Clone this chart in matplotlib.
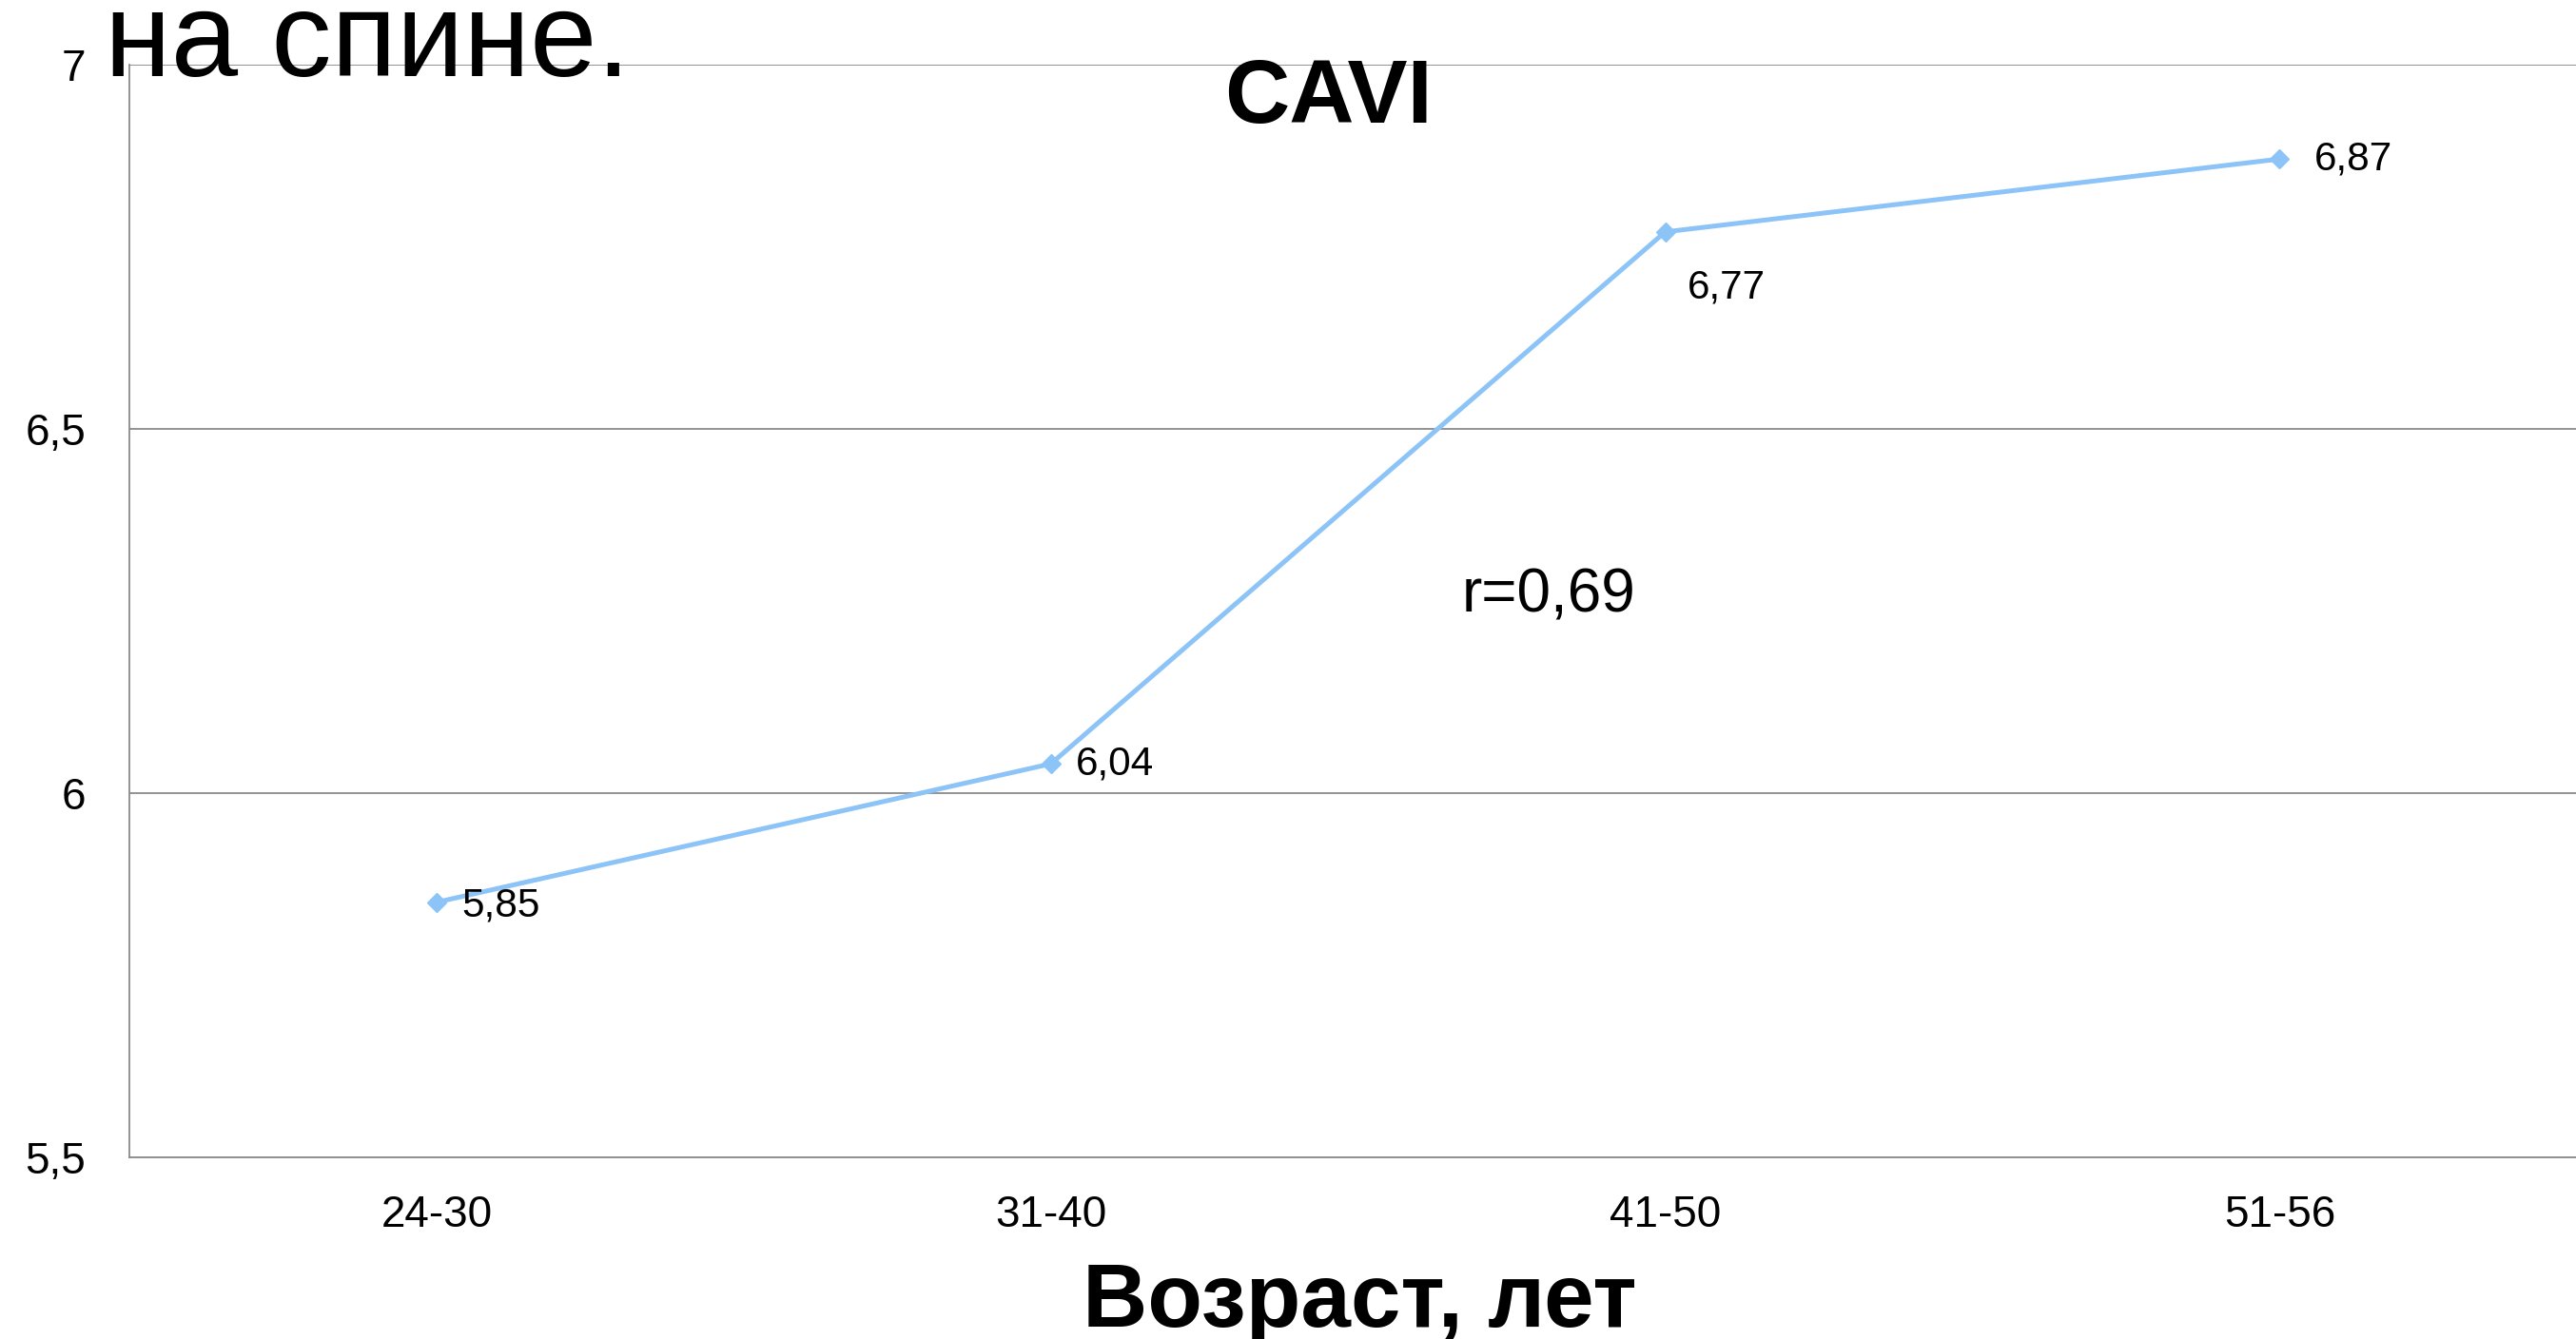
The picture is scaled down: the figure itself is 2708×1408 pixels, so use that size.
import matplotlib.pyplot as plt

plt.rcParams['font.family'] = ['Liberation Sans', 'DejaVu Sans']

age_groups = ['24-30', '31-40', '41-50', '51-56']
cavi = [5.85, 6.04, 6.77, 6.87]
cavi_labels = ['5,85', '6,04', '6,77', '6,87']
y_ticks = [5.5, 6, 6.5, 7]
y_tick_labels = ['5,5', '6', '6,5', '7']
# label offsets in points (dx, dy)
label_offsets = [(19, -3), (19, 0), (17, -42), (26, 0)]

fig = plt.figure(figsize=(27.08, 14.08), dpi=100)
ax = fig.add_axes([0.0502, 0.1357, 0.954, 0.8163])

x = list(range(len(age_groups)))
ax.plot(x, cavi, color='#8cc4f8', linewidth=3.6, marker='D', markersize=10,
        zorder=3, clip_on=False)

for xi, yi, txt, off in zip(x, cavi, cavi_labels, label_offsets):
    ax.annotate(txt, (xi, yi), xytext=off, textcoords='offset points',
                ha='left', va='center', fontsize=30.5)

ax.set_xlim(-0.5, 3.5)
ax.set_ylim(5.5, 7)
ax.set_xticks(x)
ax.set_xticklabels(age_groups, fontsize=33)
ax.set_yticks(y_ticks)
ax.set_yticklabels(y_tick_labels, fontsize=33)
ax.tick_params(axis='both', length=0)
ax.tick_params(axis='y', pad=33)
ax.tick_params(axis='x', pad=28)

ax.grid(axis='y', color='#8a8a8a', linewidth=1.3)
ax.set_axisbelow(True)
for side in ['top', 'right']:
    ax.spines[side].set_visible(False)
for side in ['left', 'bottom']:
    ax.spines[side].set_color('#8a8a8a')
    ax.spines[side].set_linewidth(1.3)

ax.text(1.81, 6.27, 'r=0,69', fontsize=46, ha='center', va='center')

fig.text(1397 / 2708, 1 - 104 / 1408, 'CAVI', fontsize=68, fontweight='bold',
         ha='center', va='center')
fig.text(1429 / 2708, 1 - 1395 / 1408, 'Возраст, лет', fontsize=68,
         fontweight='bold', ha='center', va='baseline')
fig.text(110 / 2708, 1 - 80 / 1408, 'на спине.', fontsize=91,
         ha='left', va='baseline')

plt.savefig('out.png', dpi=100)
